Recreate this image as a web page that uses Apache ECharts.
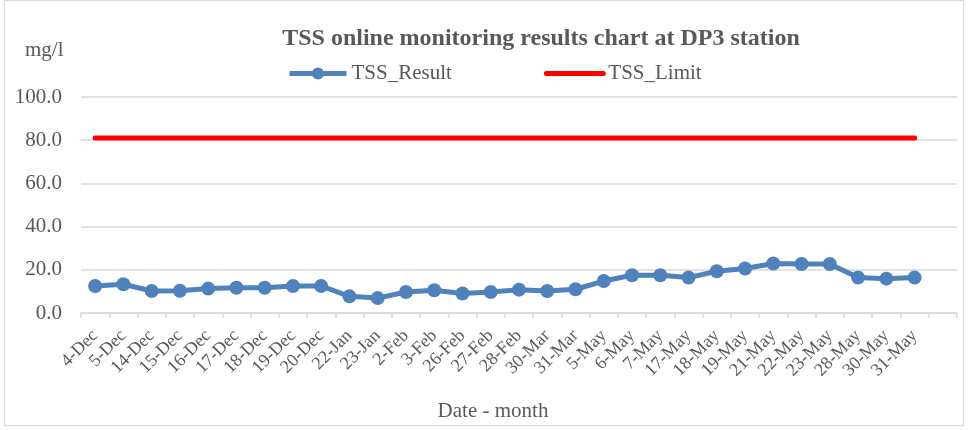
<!DOCTYPE html>
<html>
<head>
<meta charset="utf-8">
<script src="https://cdn.jsdelivr.net/npm/echarts@6/dist/echarts.min.js"></script>
<style>
  html, body { margin: 0; padding: 0; background: #fff; }
  #frame { position: absolute; left: 4px; top: 0; width: 958px; height: 424px; border: 1px solid #d9d9d9; }
  #chart { position: absolute; left: 0; top: 0; width: 969px; height: 430px; }
</style>
</head>
<body>
<div id="frame"></div>
<div id="chart"></div>
<script>
// category labels (last one is an empty slot, as in the original sheet)
var dates = ['4-Dec', '5-Dec', '14-Dec', '15-Dec', '16-Dec', '17-Dec', '18-Dec', '19-Dec', '20-Dec',
  '22-Jan', '23-Jan', '2-Feb', '3-Feb', '26-Feb', '27-Feb', '28-Feb', '30-Mar', '31-Mar',
  '5-May', '6-May', '7-May', '17-May', '18-May', '19-May', '21-May', '22-May', '23-May',
  '28-May', '30-May', '31-May', '']

var tssResult = [12.5, 13.3, 10.2, 10.3, 11.3, 11.7, 11.7, 12.5, 12.5,
  7.7, 6.9, 9.7, 10.5, 9.0, 9.7, 10.8, 10.2, 11.0,
  14.8, 17.5, 17.5, 16.4, 19.3, 20.6, 22.9, 22.7, 22.7,
  16.4, 15.9, 16.4, null]

var tssLimit = [81, 81, 81, 81, 81, 81, 81, 81, 81,
  81, 81, 81, 81, 81, 81, 81, 81, 81,
  81, 81, 81, 81, 81, 81, 81, 81, 81,
  81, 81, 81, null]

var yTicks = { min: 0, max: 100, interval: 20 }

var font = 'Liberation Serif'
var grey = '#595959'

var myChart = echarts.init(document.getElementById('chart'))
var option = {
  backgroundColor: 'transparent',
  textStyle: { fontFamily: font },
  title: [
    {
      text: 'TSS online monitoring results chart at DP3 station',
      left: 536,
      top: 22,
      textAlign: 'center',
      textStyle: { fontFamily: font, fontSize: 24, fontWeight: 'bold', color: grey }
    },
    {
      text: 'mg/l',
      left: 20,
      top: 35,
      textStyle: { fontFamily: font, fontSize: 21, fontWeight: 'normal', color: grey }
    },
    {
      text: 'Date - month',
      left: 488,
      top: 396,
      textAlign: 'center',
      textStyle: { fontFamily: font, fontSize: 21, fontWeight: 'normal', color: grey }
    }
  ],
  legend: {
    left: 282,
    top: 58,
    itemWidth: 57,
    itemHeight: 15,
    itemGap: 92,
    textStyle: { fontFamily: font, fontSize: 21, color: grey },
    data: [
      { name: 'TSS_Result', lineStyle: { width: 5 } },
      { name: 'TSS_Limit', lineStyle: { width: 5 }, itemStyle: { opacity: 0 } }
    ]
  },
  grid: { left: 81, right: 12, top: 97, bottom: 117, containLabel: false },
  xAxis: {
    type: 'category',
    data: dates,
    boundaryGap: true,
    axisLine: { lineStyle: { color: '#d9d9d9', width: 1.5 } },
    axisTick: { show: true, alignWithLabel: false, length: 5, lineStyle: { color: '#d9d9d9', width: 1.5 } },
    axisLabel: {
      interval: 0,
      rotate: 45,
      margin: 20,
      fontFamily: font,
      fontSize: 18,
      color: grey
    },
    splitLine: { show: false }
  },
  yAxis: {
    type: 'value',
    min: yTicks.min,
    max: yTicks.max,
    interval: yTicks.interval,
    axisLine: { show: false },
    axisTick: { show: false },
    axisLabel: {
      margin: 19,
      fontFamily: font,
      fontSize: 21,
      color: grey,
      formatter: function (v) { return v.toFixed(1) }
    },
    splitLine: { lineStyle: { color: '#d9d9d9', width: 1.5 } }
  },
  series: [
    {
      name: 'TSS_Result',
      type: 'line',
      data: tssResult,
      symbol: 'circle',
      symbolSize: 14,
      lineStyle: { color: '#4f81bd', width: 5 },
      itemStyle: { color: '#4f81bd' },
      z: 3
    },
    {
      name: 'TSS_Limit',
      type: 'line',
      data: tssLimit,
      symbol: 'none',
      showSymbol: false,
      lineStyle: { color: '#ff0000', width: 5, cap: 'round' },
      itemStyle: { color: '#ff0000' },
      z: 2
    }
  ]
}
myChart.setOption(option)
</script>
</body>
</html>
